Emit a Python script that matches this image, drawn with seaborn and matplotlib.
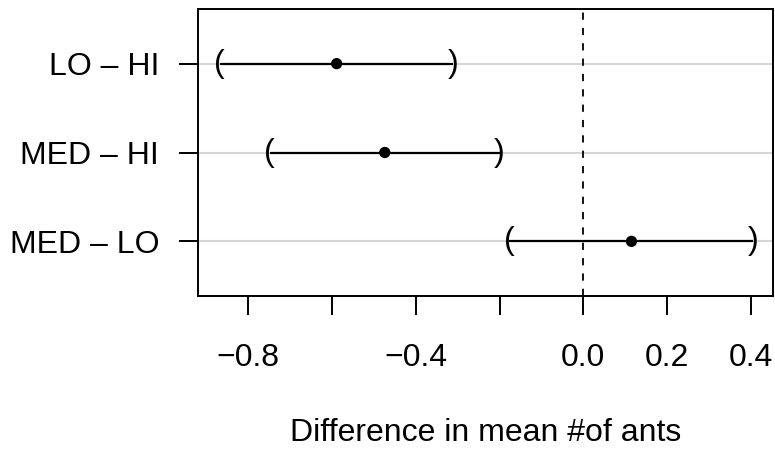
import numpy as np
import pandas as pd
import matplotlib
matplotlib.use("Agg")
import matplotlib.pyplot as plt
import seaborn as sns

# Pairwise differences in mean ant counts with confidence intervals
comparisons = ["LO – HI", "MED – HI", "MED – LO"]
diff = [-0.589, -0.474, 0.115]
lower = [-0.868, -0.749, -0.177]
upper = [-0.310, -0.200, 0.405]

x_ticks = [-0.8, -0.6, -0.4, -0.2, 0.0, 0.2, 0.4]
x_tick_labels = ["\u22120.8", "", "\u22120.4", "", "0.0", "0.2", "0.4"]

sns.set_theme(style="white")
plt.rcParams["font.family"] = ["Liberation Sans", "DejaVu Sans"]

df = pd.DataFrame({
    "comparison": comparisons,
    "diff": diff,
    "lwr": lower,
    "upr": upper,
})
df["pos"] = np.arange(len(df))

FS = 23

fig = plt.figure(figsize=(7.75, 4.51), dpi=100)
ax = fig.add_axes([198 / 775, 1 - 296 / 451, (773 - 198) / 775, (296 - 9) / 451])

# light guide line behind each comparison
for p in df["pos"]:
    ax.axhline(p, color="#d6d6d6", lw=1.5, zorder=0)

# reference line at zero difference
ax.axvline(0, color="black", lw=1.3, linestyle=(0, (4.0, 4.5)), zorder=1)

# interval segments with bracket ends
ax.hlines(df["pos"], df["lwr"], df["upr"], color="black", lw=1.6, zorder=2)
for _, r in df.iterrows():
    ax.text(r["lwr"], r["pos"], "(", ha="center", va="center",
            fontsize=FS, color="black", zorder=3)
    ax.text(r["upr"], r["pos"], ")", ha="center", va="center",
            fontsize=FS, color="black", zorder=3)

sns.scatterplot(data=df, x="diff", y="pos", color="black", s=66,
                edgecolor="none", ax=ax, zorder=4, legend=False)

ax.set_xlim(-0.920, 0.453)
ax.set_ylim(len(df) - 1 + 0.615, -0.615)

ax.set_xticks(x_ticks)
ax.set_xticklabels(x_tick_labels)
ax.set_yticks(df["pos"])
ax.set_yticklabels(df["comparison"])

ax.tick_params(axis="both", which="major", direction="out", length=14,
               width=1.4, color="black", labelsize=FS, labelcolor="black",
               bottom=True, left=True)
ax.tick_params(axis="x", pad=19.5)
ax.tick_params(axis="y", pad=14)

for s in ax.spines.values():
    s.set_visible(True)
    s.set_color("black")
    s.set_linewidth(1.4)

ax.set_xlabel("Difference in mean #of ants", fontsize=FS, color="black",
              labelpad=32.5)
ax.set_ylabel("")
ax.grid(False)

fig.savefig("out.png", dpi=100, facecolor="white")
